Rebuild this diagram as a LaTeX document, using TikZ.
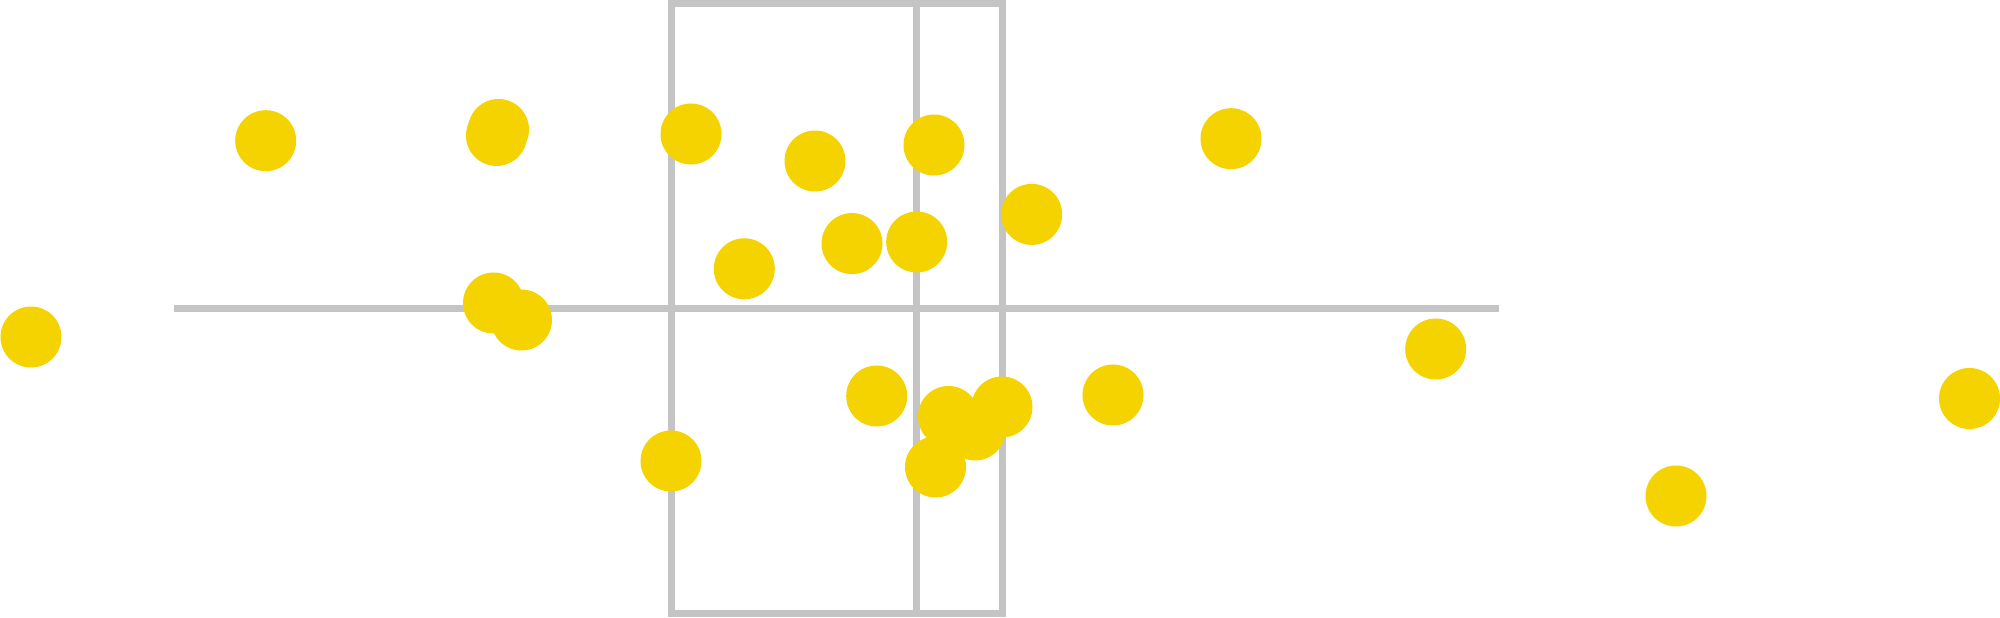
\documentclass[tikz,border=0pt]{standalone}
\definecolor{boxgray}{HTML}{C4C4C4}
\definecolor{dotyellow}{HTML}{F5D300}
\tikzset{
  boxline/.style={draw=boxgray, line width=0.07cm},
  dot/.style={circle, fill=dotyellow, inner sep=0pt, minimum size=0.61cm}
}
\begin{document}
\begin{tikzpicture}
\useasboundingbox (0,0) rectangle (20,6.18);
% whisker
\path (1.743,3.09) coordinate (wleft);
\path (14.987,3.09) coordinate (wright);
\draw[boxline] (wleft) -- (wright);

% box
\path (6.71,0.04) coordinate (origin);
\path (6.71,6.14) coordinate (topleft);
\path (10.02,6.14) coordinate (topright);
\path (10.02,0.04) coordinate (bottom);
\path (9.167,6.14) coordinate (mtop);
\path (9.167,0.04) coordinate (mbottom);
% draw
\draw[boxline] (origin) -- (bottom) -- (topright) -- (topleft) -- cycle;
\draw[boxline] (mbottom) -- (mtop);

% points
\path (0.31,2.81) node[dot] (d1) {};
\path (2.657,4.773) node[dot] (d2) {};
\path (4.985,4.885) node[dot] (d3) {};
\path (4.965,4.825) node[dot] (d4) {};
\path (4.935,3.15) node[dot] (d5) {};
\path (5.215,2.98) node[dot] (d6) {};
\path (6.91,4.84) node[dot] (d7) {};
\path (8.15,4.57) node[dot] (d8) {};
\path (9.34,4.73) node[dot] (d9) {};
\path (7.443,3.492) node[dot] (d10) {};
\path (8.52,3.744) node[dot] (d11) {};
\path (9.167,3.76) node[dot] (d12) {};
\path (8.767,2.22) node[dot] (d13) {};
\path (6.71,1.57) node[dot] (d14) {};
\path (9.485,2.015) node[dot] (d15) {};
\path (9.355,1.51) node[dot] (d16) {};
\path (9.75,1.88) node[dot] (d17) {};
\path (10.02,2.11) node[dot] (d18) {};
\path (10.317,4.036) node[dot] (d19) {};
\path (12.31,4.793) node[dot] (d20) {};
\path (11.13,2.23) node[dot] (d21) {};
\path (14.357,2.69) node[dot] (d22) {};
\path (16.76,1.22) node[dot] (d23) {};
\path (19.695,2.195) node[dot] (d24) {};
\end{tikzpicture}
\end{document}
